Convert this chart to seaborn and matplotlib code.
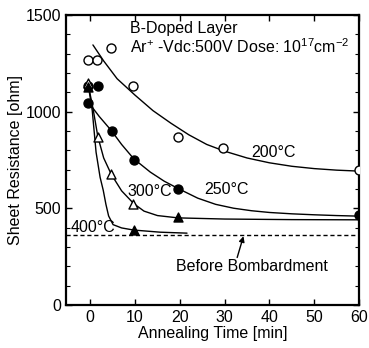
import numpy as np
import matplotlib
matplotlib.use("Agg")
import matplotlib.pyplot as plt
import seaborn as sns
from matplotlib.ticker import MultipleLocator

# ---- measured points ----
t200 = [-0.5, 1.6, 4.7, 9.6, 19.7, 29.6, 60]
r200 = [1265, 1265, 1331, 1130, 871, 813, 696]

t250 = [-0.4, 1.7, -0.4, 4.8, 9.8, 19.7, 60]
r250 = [1134, 1134, 1045, 898, 752, 601, 464]

t300_open = [-0.4, 1.7, 4.7, 9.6]
r300_open = [1150, 870, 677, 522]
t300_fill = [19.7]
r300_fill = [452]

t400 = [-0.4, 9.8]
r400 = [1128, 385]

# ---- fitted (hand-drawn) curves ----
c200_t = [0.6, 3, 6, 10, 14, 18, 22, 26, 30, 35, 40, 45, 50, 55, 60]
c200_r = [1345, 1262, 1170, 1085, 1005, 940, 880, 830, 795, 760, 735, 717, 705, 697, 692]

c250_t = [-0.4, 2, 4.7, 7, 9.7, 13.4, 16.5, 19.7, 24, 28, 32, 36, 40, 45, 50, 55, 60]
c250_r = [1048, 975, 902, 830, 756, 687, 640, 601, 552, 520, 500, 487, 478, 471, 466, 462, 459]

c300_t = [-0.4, 0.7, 1.7, 3, 4.7, 7, 9.7, 12, 15, 19.6, 30, 45, 60]
c300_r = [1134, 1005, 870, 760, 675, 590, 524, 485, 462, 450, 444, 441, 440]

c400_t = [-0.4, 0.45, 1.3, 2.2, 2.9, 3.5, 4.1, 5.1, 7, 9.7, 15.6, 21.6]
c400_r = [1130, 1005, 790, 660, 593, 520, 460, 415, 398, 387, 376, 371]

before_r = 360

x_ticks = [0, 10, 20, 30, 40, 50, 60]
y_ticks = [0, 500, 1000, 1500]

sns.set_style("ticks")
plt.rcParams['font.family'] = ['Liberation Sans', 'DejaVu Sans']
plt.rcParams['text.color'] = 'black'
plt.rcParams['axes.labelcolor'] = 'black'
plt.rcParams['xtick.color'] = 'black'
plt.rcParams['ytick.color'] = 'black'
plt.rcParams['mathtext.fontset'] = 'custom'
plt.rcParams['mathtext.rm'] = 'Liberation Sans'
plt.rcParams['mathtext.it'] = 'Liberation Sans'
plt.rcParams['mathtext.default'] = 'regular'

fig = plt.figure(figsize=(3.69, 3.48), dpi=100)
ax = fig.add_axes([0.179, 0.124, 0.794, 0.833])

for ct, cr in [(c200_t, c200_r), (c250_t, c250_r), (c300_t, c300_r), (c400_t, c400_r)]:
    sns.lineplot(x=ct, y=cr, ax=ax, color='black', lw=1.0, sort=False, estimator=None)

ax.axhline(before_r, color='black', lw=1.0, ls=(0, (3, 2)))

ms = 42
sns.scatterplot(x=t200, y=r200, ax=ax, marker='o', s=ms, facecolor='white',
                edgecolor='black', linewidth=1.0, zorder=5)
sns.scatterplot(x=t250, y=r250, ax=ax, marker='o', s=ms, facecolor='black',
                edgecolor='black', linewidth=1.0, zorder=5)
sns.scatterplot(x=t300_open, y=r300_open, ax=ax, marker='^', s=ms, facecolor='white',
                edgecolor='black', linewidth=1.0, zorder=6)
sns.scatterplot(x=t300_fill, y=r300_fill, ax=ax, marker='^', s=ms, facecolor='black',
                edgecolor='black', linewidth=1.0, zorder=6)
sns.scatterplot(x=t400, y=r400, ax=ax, marker='^', s=ms, facecolor='black',
                edgecolor='black', linewidth=1.0, zorder=6)

ax.set_xlim(-5.4, 60)
ax.set_ylim(0, 1500)
ax.set_xticks(x_ticks)
ax.set_yticks(y_ticks)
ax.yaxis.set_minor_locator(MultipleLocator(100))
ax.tick_params(which='both', direction='in', top=True, right=True, labelsize=11.5,
               color='black', labelcolor='black')
ax.tick_params(which='major', length=4, width=1)
ax.tick_params(which='minor', length=3, width=0.8)
for s in ax.spines.values():
    s.set_linewidth(1.6)
    s.set_color('black')

ax.set_xlabel("Annealing Time [min]", fontsize=11.5, labelpad=1)
ax.set_ylabel("Sheet Resistance [ohm]", fontsize=11.5, labelpad=2)

ax.text(8.9, 1428, "B-Doped Layer", fontsize=11.5, va='center', ha='left')
ax.text(8.9, 1335, "Ar$^{+}$ -Vdc:500V Dose: 10$^{17}$cm$^{-2}$", fontsize=11.5,
        va='center', ha='left')

ax.text(41, 787, "200°C", fontsize=11.5, ha='center', va='center')
ax.text(30.5, 596, "250°C", fontsize=11.5, ha='center', va='center')
ax.text(13.2, 584, "300°C", fontsize=11.5, ha='center', va='center')
ax.text(0.6, 400, "400°C", fontsize=11.5, ha='center', va='center')

ax.text(36, 196, "Before Bombardment", fontsize=11.5, ha='center', va='center')
ax.annotate("", xy=(34.2, before_r - 5), xytext=(32.8, 245),
            arrowprops=dict(arrowstyle='-|>', color='black', lw=1.0,
                            shrinkA=0, shrinkB=0, mutation_scale=8))

fig.savefig("out.png", dpi=100)
